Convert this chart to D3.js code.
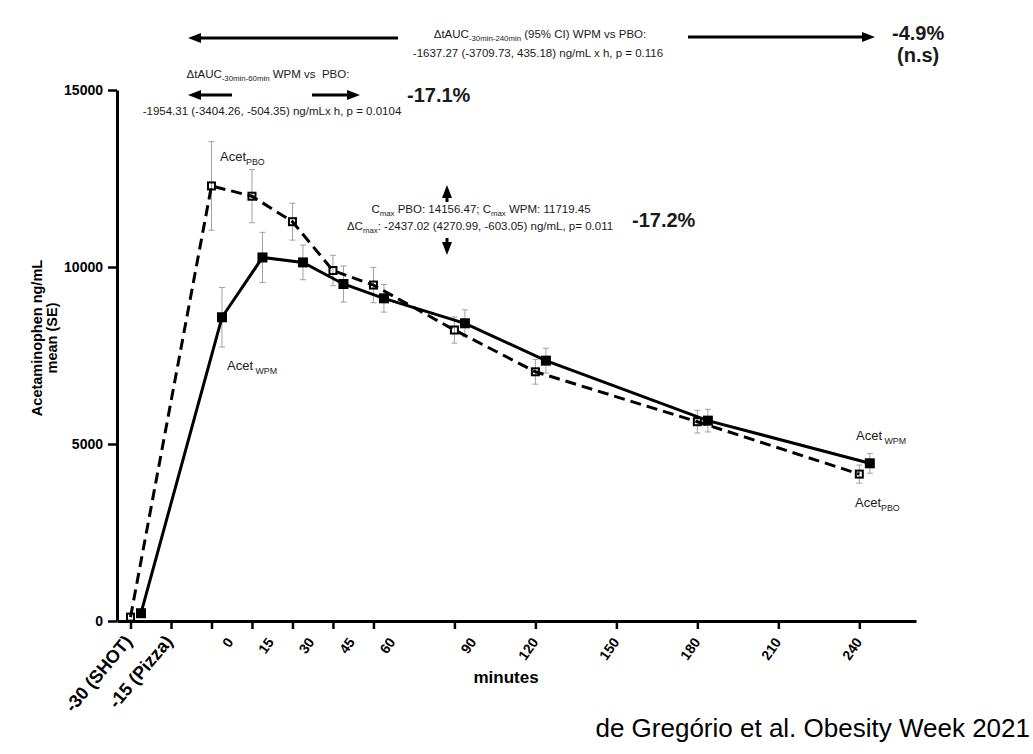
<!DOCTYPE html>
<html><head><meta charset="utf-8">
<script src="https://cdn.jsdelivr.net/npm/d3@7"></script>
<style>
body{margin:0;background:#fff}
svg{display:block}
text{font-family:"Liberation Sans",Arial,Helvetica,sans-serif;white-space:pre}
</style>
</head><body>
<svg id="c" width="1033" height="754"></svg>
<script>
// ---- data ----
const minutes = [-30, 0, 15, 30, 45, 60, 90, 120, 180, 240];
const pboMean = [110, 12290, 12000, 11280, 9900, 9490, 8220, 7040, 5630, 4150];
const pboSE   = [0, 1250, 750, 520, 430, 500, 370, 350, 320, 255];
const wpmMean = [220, 8580, 10270, 10130, 9520, 9115, 8410, 7355, 5660, 4455];
const wpmSE   = [0, 840, 710, 490, 510, 390, 380, 350, 320, 280];
const xTickValues = [-30, -15, 0, 15, 30, 45, 60, 90, 120, 150, 180, 210, 240];
const xTickLabels = ["-30 (SHOT)", "-15 (Pizza)", "0", "15", "30", "45", "60", "90", "120", "150", "180", "210", "240"];
const yTickValues = [0, 5000, 10000, 15000];

const svg = d3.select("#c");
const x = d3.scaleLinear().domain([-35, 261]).range([117, 916]);
const y = d3.scaleLinear().domain([0, 15000]).range([621, 90]);
const dodge = 10.5; // WPM series drawn slightly to the right

// ---- axes ----
const gx = svg.append("g").attr("transform", "translate(0,621)")
  .call(d3.axisBottom(x).tickValues(xTickValues).tickFormat((d, i) => xTickLabels[i]).tickSize(8).tickSizeOuter(0));
gx.select(".domain").attr("stroke-width", 3);
gx.selectAll(".tick line").attr("stroke-width", 2.5);
gx.selectAll(".tick text")
  .attr("font-weight", "bold").attr("fill", "#000")
  .attr("text-anchor", "end").attr("y", 0).attr("dy", null)
  .attr("font-size", d => xTickLabels[xTickValues.indexOf(d)].length > 3 ? 18 : 14)
  .attr("transform", d => {
    const lab = xTickLabels[xTickValues.indexOf(d)];
    if (lab.length > 3) return `translate(2,21) rotate(-50)`;
    const dx = lab.length <= 2 ? 22 : 3;
    return `translate(${dx},21) rotate(-55)`;
  });

const gy = svg.append("g").attr("transform", "translate(117,0)")
  .call(d3.axisLeft(y).tickValues(yTickValues).tickFormat(d3.format("d")).tickSize(9).tickSizeOuter(0).tickPadding(5));
gy.select(".domain").attr("stroke-width", 3);
gy.selectAll(".tick line").attr("stroke-width", 2.5);
gy.selectAll(".tick text").attr("font-size", 14).attr("font-weight", "bold").attr("fill", "#000");

svg.append("text").attr("x", 506).attr("y", 683).attr("text-anchor", "middle")
  .attr("font-size", 17).attr("font-weight", "bold").text("minutes");

const yt = svg.append("text").attr("transform", "translate(0,338) rotate(-90)")
  .attr("text-anchor", "middle").attr("font-size", 14.5).attr("font-weight", "bold");
yt.append("tspan").attr("x", 0).attr("y", 41.5).text("Acetaminophen ng/mL");
yt.append("tspan").attr("x", 0).attr("y", 56.5).text("mean (SE)");

// ---- series ----
const pbo = minutes.map((m, i) => ({ px: x(m), v: pboMean[i], se: pboSE[i] }));
const wpm = minutes.map((m, i) => ({ px: x(m) + dodge, v: wpmMean[i], se: wpmSE[i] }));

function errorBars(data) {
  const g = svg.append("g").attr("stroke", "#a0a0a0").attr("stroke-width", 1).attr("fill", "none");
  data.filter(d => d.se > 0).forEach(d => {
    g.append("line").attr("x1", d.px).attr("x2", d.px).attr("y1", y(d.v + d.se)).attr("y2", y(d.v - d.se));
    g.append("line").attr("x1", d.px - 3).attr("x2", d.px + 3).attr("y1", y(d.v + d.se)).attr("y2", y(d.v + d.se));
    g.append("line").attr("x1", d.px - 3).attr("x2", d.px + 3).attr("y1", y(d.v - d.se)).attr("y2", y(d.v - d.se));
  });
}
errorBars(pbo);
errorBars(wpm);

const line = d3.line().x(d => d.px).y(d => y(d.v));
svg.append("path").datum(pbo).attr("d", line).attr("fill", "none").attr("stroke", "#000")
  .attr("stroke-width", 3).attr("stroke-dasharray", "11,6");
svg.append("path").datum(wpm).attr("d", line).attr("fill", "none").attr("stroke", "#000")
  .attr("stroke-width", 3);

svg.append("g").selectAll("rect").data(pbo).join("rect")
  .attr("x", d => d.px - 3.5).attr("y", d => y(d.v) - 3.5).attr("width", 7).attr("height", 7)
  .attr("fill", "none").attr("stroke", "#000").attr("stroke-width", 2);
svg.append("g").selectAll("rect").data(wpm).join("rect")
  .attr("x", d => d.px - 5).attr("y", d => y(d.v) - 5).attr("width", 10).attr("height", 10)
  .attr("fill", "#000");

// ---- annotations ----
function rich(x0, y0, parts, size, anchor, weight) {
  const t = svg.append("text").attr("x", x0).attr("y", y0).attr("font-size", size)
    .attr("text-anchor", anchor || "start").attr("fill", "#1a1a1a").attr("font-weight", weight || "normal");
  let sub = false;
  parts.forEach(p => {
    const s = p[0], isSub = !!p[1];
    const ts = t.append("tspan").text(s);
    if (isSub) { ts.attr("font-size", size * 0.68); if (!sub) ts.attr("dy", size * 0.3); }
    else if (sub) ts.attr("dy", -size * 0.3);
    sub = isSub;
  });
  return t;
}
function arrow(x1, y1, x2, y2) {
  const ang = Math.atan2(y2 - y1, x2 - x1), L = 13, W = 5;
  const bx = x2 - L * Math.cos(ang), by = y2 - L * Math.sin(ang);
  svg.append("line").attr("x1", x1).attr("y1", y1).attr("x2", bx).attr("y2", by)
    .attr("stroke", "#000").attr("stroke-width", 3);
  const px = -Math.sin(ang) * W, py = Math.cos(ang) * W;
  svg.append("path").attr("d", `M${x2},${y2}L${bx + px},${by + py}L${bx - px},${by - py}Z`).attr("fill", "#000");
}

arrow(398, 38, 188, 38);
arrow(688, 37, 875, 37);
rich(540, 38, [["ΔtAUC"], ["-30min-240min", 1], [" (95% CI) WPM vs PBO:"]], 11.5, "middle");
rich(538, 57, [["-1637.27 (-3709.73, 435.18) ng/mL x h, p = 0.116"]], 11.5, "middle");
rich(892, 40, [["-4.9%"]], 20, "start", "bold");
rich(897, 62, [["(n.s)"]], 20, "start", "bold");

arrow(232, 95, 188, 95);
arrow(312, 95, 360, 95);
rich(268, 78, [["ΔtAUC"], ["-30min-60min", 1], [" WPM vs  PBO:"]], 11.5, "middle");
rich(272, 115, [["-1954.31 (-3404.26, -504.35) ng/mLx h, p = 0.0104"]], 11.5, "middle");
rich(407, 102, [["-17.1%"]], 20, "start", "bold");

arrow(447, 202, 447, 185);
arrow(447, 238, 447, 255);
rich(481, 213, [["C"], ["max", 1], [" PBO: 14156.47; C"], ["max", 1], [" WPM: 11719.45"]], 11.5, "middle");
rich(480, 230, [["ΔC"], ["max", 1], [": -2437.02 (4270.99, -603.05) ng/mL, p= 0.011"]], 11.5, "middle");
rich(632, 227, [["-17.2%"]], 20, "start", "bold");

rich(220, 161, [["Acet"], ["PBO", 1]], 13, "start");
rich(227, 370, [["Acet"], [" WPM", 1]], 13, "start");
rich(856, 440, [["Acet"], [" WPM", 1]], 13, "start");
rich(855, 507, [["Acet"], ["PBO", 1]], 13, "start");

svg.append("text").attr("x", 1030).attr("y", 737).attr("text-anchor", "end")
  .attr("font-size", 26).attr("fill", "#000").text("de Gregório et al. Obesity Week 2021");
</script>
</body></html>
